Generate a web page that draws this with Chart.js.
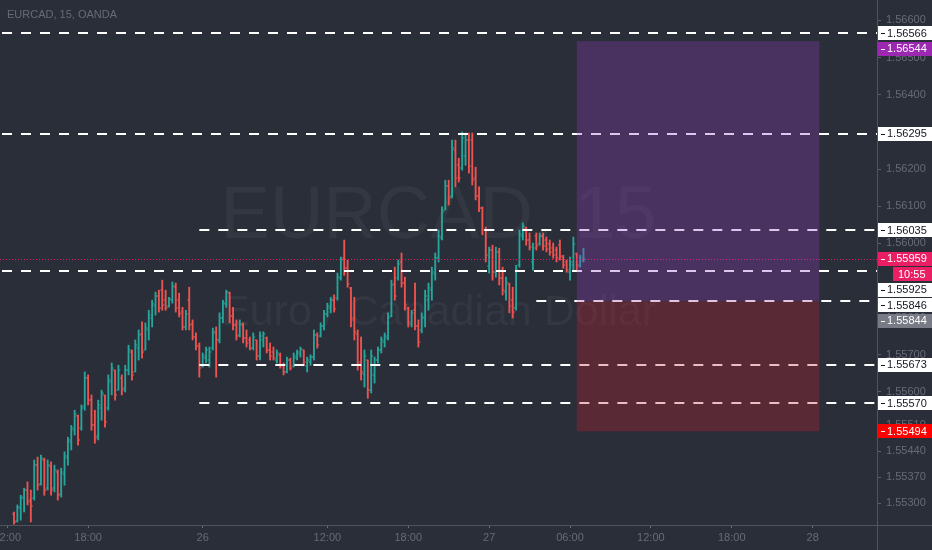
<!DOCTYPE html>
<html>
<head>
<meta charset="utf-8">
<script src="https://cdn.jsdelivr.net/npm/chart.js@4.4.0/dist/chart.umd.min.js"></script>
<style>
  html, body { margin: 0; padding: 0; background: #2a2e39; }
  #wrap { position: relative; width: 932px; height: 550px; }
</style>
</head>
<body>
<div id="wrap"><canvas id="chart" width="932" height="550"></canvas></div>
<script>
// EURCAD 15m bars (OANDA)
const opens = [
  1.55271, 1.55252, 1.55287, 1.55314, 1.55336, 1.55309, 1.55314, 1.55403, 1.55352, 1.55417,
  1.55341, 1.55401, 1.55341, 1.55385, 1.55325, 1.55379, 1.55422, 1.55466, 1.55497, 1.55535,
  1.55502, 1.55562, 1.55637, 1.55578, 1.55510, 1.55481, 1.55556, 1.55592, 1.55556, 1.55627,
  1.55659, 1.55605, 1.55637, 1.55610, 1.55659, 1.55708, 1.55654, 1.55718, 1.55756, 1.55713,
  1.55767, 1.55799, 1.55831, 1.55858, 1.55874, 1.55847, 1.55831, 1.55847, 1.55882, 1.55847,
  1.55815, 1.55775, 1.55847, 1.55783, 1.55748, 1.55724, 1.55670, 1.55691, 1.55686, 1.55718,
  1.55762, 1.55740, 1.55799, 1.55836, 1.55866, 1.55805, 1.55780, 1.55753, 1.55780, 1.55745,
  1.55740, 1.55718, 1.55740, 1.55697, 1.55740, 1.55745, 1.55713, 1.55708, 1.55686, 1.55700,
  1.55672, 1.55654, 1.55686, 1.55670, 1.55691, 1.55702, 1.55713, 1.55670, 1.55681, 1.55694,
  1.55753, 1.55751, 1.55778, 1.55810, 1.55825, 1.55847, 1.55852, 1.55906, 1.55960, 1.55933,
  1.55879, 1.55799, 1.55756, 1.55681, 1.55648, 1.55686, 1.55605, 1.55646, 1.55686, 1.55713,
  1.55735, 1.55745, 1.55805, 1.55890, 1.55906, 1.55950, 1.55893, 1.55825, 1.55783, 1.55820,
  1.55778, 1.55767, 1.55799, 1.55847, 1.55874, 1.55917, 1.55960, 1.56014, 1.56090, 1.56155,
  1.56128, 1.56251, 1.56210, 1.56202, 1.56235, 1.56278, 1.56278, 1.56175, 1.56128, 1.56095,
  1.56036, 1.55939, 1.55982, 1.55922, 1.55977, 1.55906, 1.55869, 1.55890, 1.55847, 1.55825,
  1.55941, 1.56020, 1.56041, 1.56009, 1.55950, 1.56020, 1.55998, 1.56020, 1.56009, 1.55998,
  1.55987, 1.55982, 1.55995, 1.55963, 1.55950, 1.55922, 1.55941, 1.55971, 1.55941, 1.55952
];
const highs = [
  1.55277, 1.55296, 1.55322, 1.55341, 1.55358, 1.55336, 1.55417, 1.55425, 1.55430, 1.55422,
  1.55417, 1.55412, 1.55403, 1.55390, 1.55395, 1.55439, 1.55478, 1.55510, 1.55551, 1.55538,
  1.55565, 1.55654, 1.55646, 1.55592, 1.55551, 1.55578, 1.55605, 1.55592, 1.55646, 1.55678,
  1.55659, 1.55672, 1.55646, 1.55672, 1.55726, 1.55713, 1.55740, 1.55767, 1.55789, 1.55786,
  1.55820, 1.55847, 1.55869, 1.55874, 1.55901, 1.55874, 1.55855, 1.55896, 1.55893, 1.55866,
  1.55828, 1.55820, 1.55882, 1.55794, 1.55759, 1.55732, 1.55705, 1.55721, 1.55721, 1.55772,
  1.55775, 1.55813, 1.55847, 1.55874, 1.55869, 1.55828, 1.55794, 1.55794, 1.55786, 1.55767,
  1.55748, 1.55759, 1.55740, 1.55762, 1.55762, 1.55748, 1.55732, 1.55721, 1.55713, 1.55705,
  1.55678, 1.55694, 1.55691, 1.55705, 1.55713, 1.55721, 1.55713, 1.55694, 1.55700, 1.55767,
  1.55759, 1.55786, 1.55820, 1.55839, 1.55855, 1.55861, 1.55920, 1.55963, 1.56009, 1.55955,
  1.55882, 1.55855, 1.55767, 1.55748, 1.55713, 1.55686, 1.55713, 1.55694, 1.55721, 1.55748,
  1.55759, 1.55813, 1.55901, 1.55936, 1.55955, 1.55974, 1.55909, 1.55828, 1.55820, 1.55893,
  1.55794, 1.55813, 1.55874, 1.55893, 1.55936, 1.55974, 1.56036, 1.56098, 1.56170, 1.56170,
  1.56278, 1.56278, 1.56229, 1.56300, 1.56297, 1.56297, 1.56297, 1.56205, 1.56152, 1.56098,
  1.56044, 1.55990, 1.55995, 1.55990, 1.55987, 1.55936, 1.55909, 1.55893, 1.55882, 1.55941,
  1.56036, 1.56055, 1.56044, 1.56028, 1.56001, 1.56028, 1.56028, 1.56028, 1.56017, 1.56009,
  1.56001, 1.55990, 1.56009, 1.55968, 1.55955, 1.55963, 1.56017, 1.55974, 1.55968, 1.55987
];
const lows = [
  1.55244, 1.55250, 1.55255, 1.55277, 1.55296, 1.55250, 1.55309, 1.55336, 1.55349, 1.55322,
  1.55336, 1.55322, 1.55331, 1.55309, 1.55317, 1.55349, 1.55403, 1.55444, 1.55484, 1.55457,
  1.55497, 1.55551, 1.55565, 1.55497, 1.55462, 1.55471, 1.55524, 1.55505, 1.55551, 1.55592,
  1.55578, 1.55605, 1.55592, 1.55600, 1.55646, 1.55632, 1.55654, 1.55686, 1.55691, 1.55713,
  1.55740, 1.55775, 1.55807, 1.55815, 1.55820, 1.55820, 1.55828, 1.55839, 1.55815, 1.55802,
  1.55767, 1.55767, 1.55767, 1.55740, 1.55713, 1.55640, 1.55667, 1.55678, 1.55667, 1.55713,
  1.55640, 1.55732, 1.55786, 1.55828, 1.55786, 1.55767, 1.55740, 1.55748, 1.55732, 1.55721,
  1.55713, 1.55713, 1.55686, 1.55686, 1.55721, 1.55705, 1.55686, 1.55686, 1.55678, 1.55664,
  1.55646, 1.55651, 1.55659, 1.55667, 1.55686, 1.55694, 1.55672, 1.55654, 1.55672, 1.55686,
  1.55718, 1.55748, 1.55767, 1.55802, 1.55813, 1.55815, 1.55847, 1.55901, 1.55914, 1.55882,
  1.55775, 1.55740, 1.55659, 1.55632, 1.55613, 1.55583, 1.55597, 1.55624, 1.55678, 1.55705,
  1.55721, 1.55740, 1.55802, 1.55847, 1.55901, 1.55882, 1.55820, 1.55775, 1.55775, 1.55767,
  1.55721, 1.55759, 1.55775, 1.55820, 1.55847, 1.55901, 1.55950, 1.56009, 1.56090, 1.56103,
  1.56122, 1.56152, 1.56165, 1.56197, 1.56210, 1.56189, 1.56157, 1.56117, 1.56085, 1.56023,
  1.55950, 1.55920, 1.55901, 1.55909, 1.55888, 1.55861, 1.55847, 1.55813, 1.55799, 1.55820,
  1.55936, 1.56009, 1.55995, 1.55982, 1.55928, 1.55982, 1.55995, 1.55982, 1.55977, 1.55968,
  1.55960, 1.55950, 1.55955, 1.55933, 1.55922, 1.55901, 1.55928, 1.55928, 1.55936, 1.55950
];
const closes = [
  1.55250, 1.55290, 1.55317, 1.55336, 1.55304, 1.55293, 1.55403, 1.55349, 1.55422, 1.55336,
  1.55403, 1.55336, 1.55390, 1.55322, 1.55385, 1.55428, 1.55471, 1.55502, 1.55540, 1.55471,
  1.55556, 1.55637, 1.55578, 1.55510, 1.55475, 1.55565, 1.55597, 1.55519, 1.55632, 1.55664,
  1.55592, 1.55659, 1.55605, 1.55659, 1.55713, 1.55646, 1.55726, 1.55753, 1.55708, 1.55772,
  1.55807, 1.55836, 1.55858, 1.55825, 1.55833, 1.55825, 1.55850, 1.55885, 1.55825, 1.55810,
  1.55775, 1.55810, 1.55780, 1.55748, 1.55724, 1.55664, 1.55697, 1.55713, 1.55708, 1.55759,
  1.55740, 1.55799, 1.55839, 1.55869, 1.55805, 1.55780, 1.55751, 1.55783, 1.55745, 1.55732,
  1.55718, 1.55748, 1.55697, 1.55751, 1.55756, 1.55713, 1.55697, 1.55691, 1.55705, 1.55670,
  1.55654, 1.55686, 1.55664, 1.55697, 1.55708, 1.55716, 1.55681, 1.55686, 1.55694, 1.55753,
  1.55726, 1.55778, 1.55810, 1.55831, 1.55847, 1.55823, 1.55909, 1.55955, 1.55933, 1.55890,
  1.55794, 1.55762, 1.55675, 1.55654, 1.55697, 1.55605, 1.55697, 1.55686, 1.55713, 1.55740,
  1.55751, 1.55799, 1.55888, 1.55858, 1.55944, 1.55893, 1.55833, 1.55789, 1.55813, 1.55778,
  1.55735, 1.55802, 1.55858, 1.55879, 1.55922, 1.55960, 1.56020, 1.56085, 1.56155, 1.56122,
  1.56256, 1.56175, 1.56175, 1.56283, 1.56278, 1.56208, 1.56170, 1.56128, 1.56095, 1.56036,
  1.55968, 1.55982, 1.55922, 1.55977, 1.55906, 1.55874, 1.55896, 1.55831, 1.55815, 1.55928,
  1.56025, 1.56047, 1.56009, 1.55990, 1.55987, 1.55993, 1.56020, 1.55993, 1.55985, 1.55977,
  1.55968, 1.55960, 1.55966, 1.55941, 1.55928, 1.55950, 1.55998, 1.55939, 1.55960, 1.55959
];

// time axis: bar index of each label
const xTickIndex = [-2, 22, 56, 93, 117, 141, 165, 189, 213, 237];
const xTickLabels = ['12:00', '18:00', '26', '12:00', '18:00', '27', '06:00', '12:00', '18:00', '28'];
const yTickValues = [1.566, 1.565, 1.564, 1.563, 1.562, 1.561, 1.560, 1.558, 1.557, 1.556, 1.5551, 1.5544, 1.5537, 1.553];

// horizontal levels, and the bar index each one starts from (null = left edge)
const levelPrices = [1.56566, 1.56295, 1.56035, 1.55925, 1.55846, 1.55673, 1.55570];
const levelStart = [null, null, 55, null, 155, 55, 55];

// long position tool
const positionStart = 167;
const positionEnd = 239;
const targetPrice = 1.56544;
const entryPrice = 1.55844;
const stopPrice = 1.55494;

const lastPrice = 1.55959;
const countdown = '10:55';

const UP = '#26a69a';
const DOWN = '#ef5350';
const BG = '#2a2e39';
const TEXT = '#676b77';
const FONT = "'Liberation Sans', Arial, sans-serif";

const barColors = closes.map((c, i) => c >= opens[i] ? UP : DOWN);
const rangeData = closes.map((c, i) => ({ x: i, y: [lows[i], highs[i]] }));

const overlay = {
    id: 'overlay',
    beforeDraw(chart) {
        const ctx = chart.ctx;
        ctx.save();
        ctx.fillStyle = BG;
        ctx.fillRect(0, 0, chart.width, chart.height);
        ctx.restore();
    },
    beforeDatasetsDraw(chart) {
        const ctx = chart.ctx;
        const area = chart.chartArea;
        const cx = (area.left + area.right) / 2;
        ctx.save();
        ctx.fillStyle = 'rgba(255,255,255,0.045)';
        ctx.textAlign = 'center';
        ctx.textBaseline = 'middle';
        ctx.font = '74px ' + FONT;
        ctx.fillText('EURCAD, 15', cx, 218);
        ctx.font = '43px ' + FONT;
        ctx.fillText('Euro / Canadian Dollar', cx, 313);

        ctx.fillStyle = TEXT;
        ctx.textAlign = 'left';
        ctx.font = '11px ' + FONT;
        ctx.fillText('EURCAD, 15, OANDA', 7, 15);
        ctx.restore();
    },
    afterDatasetsDraw(chart) {
        const ctx = chart.ctx;
        const area = chart.chartArea;
        const xs = chart.scales.x;
        const ys = chart.scales.y;
        const meta = chart.getDatasetMeta(0);
        ctx.save();

        // open / close ticks
        meta.data.forEach((el, i) => {
            ctx.fillStyle = barColors[i];
            const yo = ys.getPixelForValue(opens[i]);
            const yc = ys.getPixelForValue(closes[i]);
            ctx.fillRect(el.x - 2, Math.round(yo) - 0.5, 1.6, 1);
            ctx.fillRect(el.x + 0.4, Math.round(yc) - 0.5, 1.6, 1);
        });

        // dotted last price line
        ctx.strokeStyle = '#e91e63';
        ctx.lineWidth = 1;
        ctx.setLineDash([1, 2]);
        let yl = Math.round(ys.getPixelForValue(lastPrice)) + 0.5;
        ctx.beginPath();
        ctx.moveTo(area.left, yl);
        ctx.lineTo(area.right, yl);
        ctx.stroke();

        // dashed levels
        ctx.strokeStyle = '#ffffff';
        ctx.lineWidth = 2;
        ctx.setLineDash([10, 9]);
        levelPrices.forEach((p, i) => {
            const y = Math.round(ys.getPixelForValue(p));
            const x0 = levelStart[i] === null ? area.left + 2 : xs.getPixelForValue(levelStart[i]);
            ctx.beginPath();
            ctx.moveTo(x0, y);
            ctx.lineTo(area.right, y);
            ctx.stroke();
        });
        ctx.setLineDash([]);

        // position zones
        const x1 = xs.getPixelForValue(positionStart);
        const x2 = xs.getPixelForValue(positionEnd);
        const yT = ys.getPixelForValue(targetPrice);
        const yE = ys.getPixelForValue(entryPrice);
        const yS = ys.getPixelForValue(stopPrice);
        ctx.fillStyle = 'rgba(150,60,190,0.30)';
        ctx.fillRect(x1, yT, x2 - x1, yE - yT);
        ctx.fillStyle = 'rgba(200,30,45,0.30)';
        ctx.fillRect(x1, yE, x2 - x1, yS - yE);
        ctx.restore();
    },
    afterDraw(chart) {
        const ctx = chart.ctx;
        const area = chart.chartArea;
        const ys = chart.scales.y;
        ctx.save();
        // axis frame
        ctx.strokeStyle = '#50535e';
        ctx.lineWidth = 1;
        ctx.beginPath();
        ctx.moveTo(area.right + 0.5, 0);
        ctx.lineTo(area.right + 0.5, chart.height);
        ctx.moveTo(0, area.bottom + 0.5);
        ctx.lineTo(chart.width, area.bottom + 0.5);
        ctx.stroke();

        // price labels on the axis
        const labels = levelPrices.map(p => ({ price: p, text: p.toFixed(5), bg: '#ffffff', fg: '#131722' }));
        labels.push({ price: targetPrice, text: targetPrice.toFixed(5), bg: '#9c27b0', fg: '#ffffff' });
        labels.push({ price: entryPrice, text: entryPrice.toFixed(5), bg: '#787b86', fg: '#ffffff' });
        labels.push({ price: stopPrice, text: stopPrice.toFixed(5), bg: '#ff0000', fg: '#ffffff' });
        labels.push({ price: lastPrice, text: lastPrice.toFixed(5), bg: '#e91e63', fg: '#ffffff' });
        labels.push({ price: lastPrice - 1e-7, text: countdown, bg: '#e91e63', fg: '#ffffff', small: true });
        labels.sort((a, b) => b.price - a.price);

        let prev = -100;
        ctx.font = '11px ' + FONT;
        ctx.textBaseline = 'middle';
        labels.forEach(l => {
            let y = Math.max(ys.getPixelForValue(l.price), prev + 15.5);
            prev = y;
            const left = l.small ? area.right + 16 : area.right + 1;
            ctx.fillStyle = l.bg;
            ctx.fillRect(left, Math.round(y - 7), chart.width - left, 14);
            ctx.fillStyle = l.fg;
            if (!l.small) {
                ctx.fillRect(area.right + 4, Math.round(y), 4, 1);
            }
            ctx.fillText(l.text, l.small ? left + 5 : area.right + 10, y + 0.5);
        });
        ctx.restore();
    }
};

const ctx = document.getElementById('chart').getContext('2d');
const chart = new Chart(ctx, {
    type: 'bar',
    data: {
        datasets: [{
            label: 'EURCAD',
            data: rangeData,
            backgroundColor: barColors,
            borderWidth: 0,
            barThickness: 1.2,
            grouped: false
        }]
    },
    options: {
        responsive: false,
        animation: false,
        devicePixelRatio: 1,
        layout: { padding: 0 },
        plugins: {
            legend: { display: false },
            tooltip: { enabled: false }
        },
        scales: {
            x: {
                type: 'linear',
                min: -4.15,
                max: 256.1,
                offset: false,
                afterBuildTicks: s => { s.ticks = xTickIndex.map(v => ({ value: v })); },
                afterFit: s => { s.height = 25; s.paddingLeft = 0; s.paddingRight = 0; },
                ticks: {
                    autoSkip: false,
                    maxRotation: 0,
                    color: TEXT,
                    font: { family: FONT, size: 11 },
                    padding: 3,
                    callback: (v, i) => xTickLabels[i]
                },
                grid: { drawOnChartArea: false, drawTicks: true, tickLength: 3, color: '#6a6d78', offset: false },
                border: { display: false }
            },
            y: {
                position: 'right',
                min: 1.55242,
                max: 1.56655,
                afterBuildTicks: s => { s.ticks = yTickValues.map(v => ({ value: v })); },
                afterFit: s => { s.width = 55; s.paddingTop = 0; s.paddingBottom = 0; },
                ticks: {
                    autoSkip: false,
                    color: TEXT,
                    font: { family: FONT, size: 11 },
                    padding: 5,
                    callback: v => v.toFixed(5)
                },
                grid: { drawOnChartArea: false, drawTicks: true, tickLength: 4, color: '#5d606b' },
                border: { display: false }
            }
        }
    },
    plugins: [overlay]
});
</script>
</body>
</html>
